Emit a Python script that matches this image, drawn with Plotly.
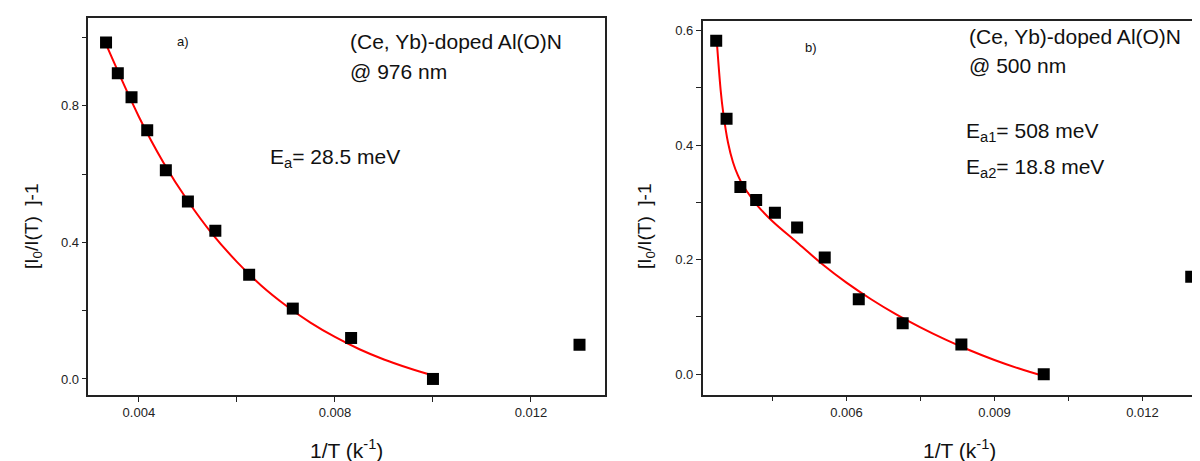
import plotly.graph_objects as go

# ---- data panel a (976 nm) ----
xa = [0.00333, 0.00357, 0.00385, 0.00417, 0.00455, 0.00500, 0.00556, 0.00625, 0.00714, 0.00833, 0.01000, 0.01299]
ya = [0.985, 0.895, 0.825, 0.728, 0.611, 0.520, 0.434, 0.305, 0.206, 0.120, 0.000, 0.100]
fit_xa = [0.00336, 0.0040, 0.0045, 0.0050, 0.0055, 0.0060, 0.0065, 0.0070, 0.0075, 0.0080, 0.0085, 0.0090, 0.0095, 0.0100]
fit_ya = [0.970, 0.768, 0.634, 0.521, 0.424, 0.343, 0.273, 0.215, 0.165, 0.123, 0.087, 0.057, 0.032, 0.010]

# ---- data panel b (500 nm) ----
xb = [0.00336, 0.00357, 0.00385, 0.00417, 0.00455, 0.00500, 0.00556, 0.00625, 0.00714, 0.00833, 0.01000, 0.01299]
yb = [0.582, 0.446, 0.327, 0.304, 0.282, 0.256, 0.204, 0.131, 0.089, 0.052, 0.000, 0.170]
fit_xb = [0.00337, 0.00345, 0.00350, 0.00360, 0.00370, 0.00380, 0.00390, 0.00400, 0.00420, 0.00450,
          0.0050, 0.0055, 0.0060, 0.0065, 0.0070, 0.0075, 0.0080, 0.0085, 0.0090, 0.0095, 0.0100]
fit_yb = [0.583, 0.496, 0.458, 0.404, 0.370, 0.347, 0.330, 0.317, 0.294, 0.267,
          0.230, 0.193, 0.160, 0.131, 0.105, 0.082, 0.061, 0.042, 0.025, 0.010, -0.003]

W, H = 1200, 461
FONT = "Liberation Sans, Arial, sans-serif"

fig = go.Figure()
fig.add_trace(go.Scatter(x=fit_xa, y=fit_ya, mode="lines", line=dict(color="#ff0000", width=2, shape="spline"),
                         xaxis="x", yaxis="y", showlegend=False, hoverinfo="skip"))
fig.add_trace(go.Scatter(x=xa, y=ya, mode="markers", marker=dict(symbol="square", size=12, color="black"),
                         xaxis="x", yaxis="y", showlegend=False))
fig.add_trace(go.Scatter(x=fit_xb, y=fit_yb, mode="lines", line=dict(color="#ff0000", width=2, shape="spline"),
                         xaxis="x2", yaxis="y2", showlegend=False, hoverinfo="skip"))
fig.add_trace(go.Scatter(x=xb, y=yb, mode="markers", marker=dict(symbol="square", size=12, color="black"),
                         xaxis="x2", yaxis="y2", showlegend=False))

def px_x(p):
    return p / W

def px_y(p):
    return 1 - p / H

axis_common = dict(showgrid=False, zeroline=False, showline=True, linecolor="#222", linewidth=1.5,
                   ticks="outside", ticklen=5, tickwidth=1, tickcolor="#222",
                   tickfont=dict(family=FONT, size=13, color="#222"), automargin=False)

fig.update_layout(
    width=W, height=H, margin=dict(l=0, r=0, t=0, b=0),
    paper_bgcolor="white", plot_bgcolor="white",
    xaxis=dict(domain=[px_x(80.4), px_x(597)], range=[0.00297, 0.01351], anchor="y",
               tick0=0, dtick=0.004, tickformat=".3f", mirror=True,
               minor=dict(ticks="outside", dtick=0.002, tick0=0, ticklen=5, tickcolor="#222"), **axis_common),
    yaxis=dict(domain=[px_y(387), px_y(10)], range=[-0.047, 1.057], anchor="x",
               tick0=0, dtick=0.4, tickformat=".1f", mirror=True,
               minor=dict(ticks="outside", dtick=0.2, tick0=0, ticklen=5, tickcolor="#222"), **axis_common),
    xaxis2=dict(domain=[px_x(694.6), 1.0], range=[0.003084, 0.01333], anchor="y2",
                tick0=0, dtick=0.003, tickformat=".3f", mirror=True,
                minor=dict(ticks="outside", dtick=0.0015, tick0=0, ticklen=5, tickcolor="#222"), **axis_common),
    yaxis2=dict(domain=[px_y(386.7), px_y(12.7)], range=[-0.0356, 0.617], anchor="x2",
                tick0=0, dtick=0.2, tickformat=".1f", mirror=False,
                minor=dict(ticks="outside", dtick=0.1, tick0=0, ticklen=5, tickcolor="#222"), **axis_common),
)

def ann(text, x, y, size, xanchor="left", yanchor="middle", angle=0):
    fig.add_annotation(text=text, x=px_x(x), y=px_y(y), xref="paper", yref="paper",
                       showarrow=False, xanchor=xanchor, yanchor=yanchor, textangle=angle,
                       borderpad=0, font=dict(family=FONT, size=size, color="#111"))

# Panel a annotations
ann("a)", 175, 33, 13, xanchor="center")
ann("(Ce, Yb)-doped Al(O)N", 341, 33, 21)
ann("@ 976 nm", 341, 63, 21)
ann("E<sub>a</sub>= 28.5 meV", 261, 150, 21)
ann("[I<sub>0</sub>/I(T)  ]-1", 25, 218, 19, xanchor="center", angle=-90)
ann("1/T (k<sup>-1</sup>)", 338, 441, 21, xanchor="center")

# Panel b annotations
ann("b)", 803, 39, 13, xanchor="center")
ann("(Ce, Yb)-doped Al(O)N", 960, 28, 21)
ann("@ 500 nm", 960, 57, 21)
ann("E<sub>a1</sub>= 508 meV", 957, 124, 21)
ann("E<sub>a2</sub>= 18.8 meV", 957, 160, 21)
ann("[I<sub>0</sub>/I(T)  ]-1", 638, 218, 19, xanchor="center", angle=-90)
ann("1/T (k<sup>-1</sup>)", 951, 441, 21, xanchor="center")

fig.write_html("out.html")
